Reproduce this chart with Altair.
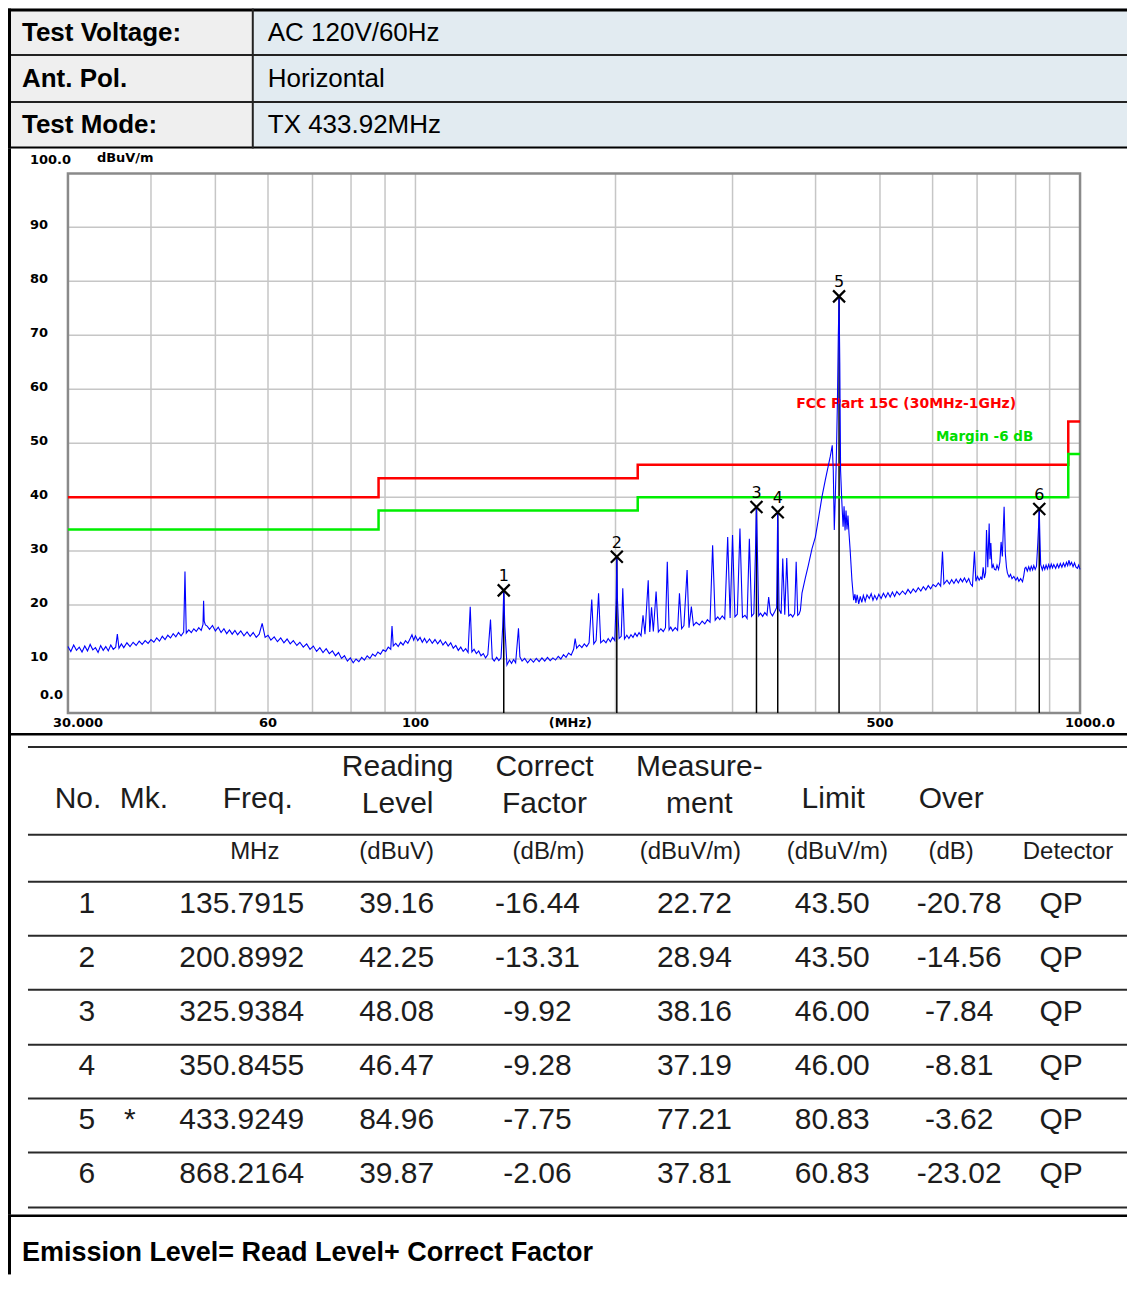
import altair as alt
import pandas as pd

# ---------------- data ----------------
HEADER_LABELS = ["Test Voltage:", "Ant. Pol.", "Test Mode:"]
HEADER_VALUES = ["AC 120V/60Hz", "Horizontal", "TX 433.92MHz"]

# spectrum trace: (MHz, dBuV/m)
TRACE_30_100 = [
    (30.0, 12.3), (30.3, 11.4), (30.6, 12.6), (30.9, 11.6), (31.2, 12.2), (31.5, 11.3), (31.8, 12.4),
    (32.1, 11.5), (32.4, 12.7), (32.7, 11.7), (33.0, 12.1), (33.3, 11.2), (33.6, 12.5), (33.9, 11.6),
    (34.2, 12.3), (34.5, 11.5), (34.8, 12.6), (35.1, 11.8), (35.4, 12.2), (35.6, 14.6), (35.8, 12.0),
    (36.1, 12.8), (36.4, 12.1), (36.8, 13.0), (37.2, 12.3), (37.6, 13.1), (38.0, 12.5), (38.4, 13.3),
    (38.8, 12.7), (39.2, 13.4), (39.6, 12.9), (40.0, 13.6), (40.4, 13.1), (40.8, 13.9), (41.2, 13.3),
    (41.6, 14.2), (42.0, 13.6), (42.4, 14.4), (42.8, 13.9), (43.2, 14.7), (43.6, 14.1), (44.0, 14.9),
    (44.4, 14.3), (44.8, 15.0), (44.9, 20.4), (45.0, 26.2), (45.1, 20.4), (45.2, 14.8), (45.6, 15.4),
    (46.0, 14.9), (46.4, 15.6), (46.8, 15.1), (47.2, 15.8), (47.6, 15.3), (47.9, 16.4), (48.0, 20.8),
    (48.1, 17.0), (48.3, 16.3), (48.6, 16.1), (49.0, 15.5), (49.5, 16.2), (50.0, 15.2), (50.5, 15.9),
    (51.0, 14.9), (51.5, 15.6), (52.0, 14.7), (52.5, 15.4), (53.0, 14.6), (53.5, 15.3), (54.0, 14.5),
    (54.6, 15.2), (55.2, 14.3), (55.8, 15.0), (56.4, 14.2), (57.0, 14.9), (57.6, 14.0), (58.2, 14.6),
    (58.8, 16.6), (59.4, 14.0), (60.0, 14.4), (60.6, 13.5), (61.3, 14.1), (62.0, 13.2), (62.7, 13.9),
    (63.4, 13.0), (64.1, 13.7), (64.8, 12.8), (65.5, 13.4), (66.3, 12.5), (67.0, 13.1), (67.8, 12.2),
    (68.6, 12.8), (69.4, 11.8), (70.2, 12.4), (71.0, 11.4), (71.8, 12.1), (72.6, 11.2), (73.4, 11.9),
    (74.2, 11.0), (75.0, 11.5), (75.8, 10.6), (76.6, 11.2), (77.4, 10.1), (78.2, 10.6), (79.0, 9.6),
    (79.8, 10.2), (80.6, 9.3), (81.4, 10.0), (82.2, 9.5), (83.0, 10.3), (83.8, 9.8), (84.6, 10.6),
    (85.4, 10.1), (86.2, 10.9), (87.0, 10.5), (87.8, 11.3), (88.6, 10.9), (89.4, 11.7), (90.2, 11.4),
    (91.0, 12.2), (91.8, 11.8), (92.2, 16.1), (92.6, 12.4), (93.4, 12.9), (94.2, 12.3), (95.0, 13.1),
    (95.8, 12.6), (96.6, 13.4), (97.4, 12.9), (98.2, 13.8), (98.8, 14.5), (99.4, 13.5),
]
TRACE_100_300 = [
    (100.0, 14.3), (100.8, 13.4), (101.6, 14.0), (102.4, 13.1), (103.2, 13.8), (104.0, 13.0), (105.0, 13.7),
    (106.0, 12.9), (107.0, 13.6), (108.0, 12.8), (109.0, 13.5), (110.0, 12.6), (111.0, 13.2), (112.0, 12.4),
    (113.0, 13.0), (114.0, 12.0), (115.0, 12.5), (116.0, 11.6), (117.0, 12.2), (118.0, 11.4), (119.0, 11.9),
    (120.0, 11.2), (120.9, 19.7), (121.6, 11.3), (122.5, 11.8), (123.5, 11.0), (124.5, 11.5), (125.5, 10.6),
    (126.5, 11.0), (127.5, 10.2), (128.5, 10.8), (129.7, 17.3), (130.5, 10.1), (131.4, 9.6), (132.5, 10.3),
    (133.5, 9.7), (134.5, 10.2), (135.3, 16.0), (135.8, 22.7), (136.3, 16.0), (137.3, 8.9), (138.5, 9.8),
    (139.5, 9.2), (140.5, 9.9), (141.5, 9.3), (142.9, 15.7), (143.6, 10.4), (144.7, 9.6), (146.0, 10.1),
    (147.5, 9.3), (149.0, 10.0), (150.5, 9.4), (152.0, 10.1), (153.5, 9.5), (155.0, 10.2), (156.5, 9.6),
    (158.0, 10.3), (159.5, 9.7), (161.0, 10.2), (162.5, 9.8), (164.0, 10.5), (165.5, 10.0), (167.0, 10.8),
    (168.5, 10.3), (170.0, 11.1), (171.5, 10.7), (173.0, 11.8), (173.9, 13.8), (174.8, 12.0), (176.5, 12.6),
    (178.0, 12.1), (179.5, 12.8), (181.0, 12.3), (182.5, 13.0), (184.2, 21.0), (185.5, 12.8), (187.0, 13.4),
    (188.6, 22.2), (190.0, 13.0), (191.9, 13.5), (193.5, 13.0), (195.0, 13.8), (196.5, 13.2), (198.0, 14.0),
    (199.5, 13.4), (200.5, 21.3), (200.9, 28.9), (201.3, 21.3), (202.5, 13.8), (204.0, 14.2), (205.1, 23.1),
    (206.3, 13.7), (208.0, 14.4), (209.5, 13.8), (211.0, 14.5), (212.5, 14.0), (214.0, 14.8), (215.5, 14.2),
    (217.0, 14.9), (218.5, 14.3), (220.0, 18.1), (221.5, 14.6), (224.0, 24.6), (225.2, 15.0), (226.6, 19.6),
    (228.0, 15.1), (230.2, 22.5), (232.0, 15.0), (234.0, 15.6), (236.0, 15.1), (237.8, 15.8), (239.3, 28.0),
    (240.8, 15.4), (242.2, 15.9), (243.8, 15.2), (246.0, 15.8), (248.0, 15.3), (249.6, 22.2), (251.5, 15.6),
    (253.5, 16.2), (256.3, 26.5), (258.0, 15.8), (260.1, 19.7), (262.0, 16.2), (264.5, 16.8), (267.4, 16.3),
    (270.0, 17.0), (272.5, 16.5), (275.0, 17.3), (277.5, 16.8), (280.0, 31.1), (282.5, 17.2), (285.0, 17.8),
    (287.0, 17.3), (289.5, 18.0), (292.0, 17.4), (295.0, 32.6), (297.5, 17.6),
]
TRACE_300_1000 = [
    (300.0, 33.0), (302.5, 17.8), (305.0, 18.3), (307.8, 34.2), (310.5, 17.7), (313.2, 18.1), (315.5, 17.5),
    (318.0, 32.3), (320.5, 17.9), (323.0, 18.4), (324.8, 30.0), (325.9, 38.2), (327.0, 30.0), (328.5, 18.0),
    (330.5, 18.5), (333.0, 17.9), (335.5, 18.6), (338.0, 18.1), (340.0, 21.5), (342.0, 18.6), (344.5, 18.0),
    (347.0, 18.7), (349.5, 19.5), (350.8, 37.2), (352.5, 19.2), (355.0, 18.4), (357.0, 28.6), (359.5, 18.2),
    (362.0, 28.7), (364.5, 18.0), (367.0, 18.3), (369.5, 17.8), (372.0, 18.4), (374.0, 28.0), (376.0, 18.1),
    (377.7, 18.3), (379.5, 19.0), (381.6, 22.2), (386.0, 25.0), (390.0, 27.3), (395.0, 30.4), (399.7, 32.6),
    (404.0, 36.0), (409.0, 40.1), (413.6, 43.1), (418.0, 45.8), (421.0, 47.6), (423.8, 49.6), (425.3, 45.0),
    (426.8, 33.9), (428.3, 40.0), (429.8, 47.0), (431.5, 58.0), (432.8, 70.0), (433.9, 77.2), (435.0, 65.0),
    (436.2, 45.0), (438.0, 39.4), (440.0, 34.5), (441.5, 38.3), (443.0, 33.8), (444.5, 37.5), (446.0, 34.0),
    (447.5, 36.6), (449.0, 33.5), (451.0, 30.0), (453.7, 24.6), (456.4, 20.9), (458.5, 22.0), (460.0, 20.4),
    (462.0, 21.9), (464.5, 20.2), (467.0, 21.6), (469.5, 20.5), (472.0, 21.8), (475.0, 20.7), (478.0, 21.9),
    (481.8, 21.2), (485.0, 22.1), (488.0, 20.9), (491.0, 21.8), (494.5, 21.0), (498.0, 22.0), (502.0, 21.2),
    (506.0, 22.2), (510.0, 21.4), (514.0, 22.3), (518.0, 21.5), (522.0, 22.4), (526.0, 21.6), (530.0, 22.5),
    (535.0, 21.9), (540.6, 22.6), (546.0, 22.0), (551.0, 22.9), (556.0, 22.2), (561.0, 23.0), (566.0, 22.4),
    (571.0, 23.2), (576.0, 22.6), (581.0, 23.4), (586.0, 22.8), (591.0, 23.6), (596.0, 23.0), (601.0, 23.8),
    (606.7, 23.4), (612.0, 24.1), (617.0, 23.5), (620.9, 29.9), (624.0, 23.9), (630.6, 24.6), (636.0, 23.9),
    (641.0, 24.7), (646.0, 24.0), (651.0, 24.8), (656.0, 24.1), (661.0, 24.9), (665.4, 24.3), (670.0, 25.0),
    (675.0, 24.2), (680.0, 24.9), (684.5, 23.9), (688.8, 23.5), (693.6, 29.9), (697.0, 24.4), (701.0, 25.3),
    (705.0, 24.6), (709.2, 25.2), (712.0, 24.7), (714.9, 27.0), (718.0, 25.0), (721.0, 26.0), (723.2, 33.9),
    (726.5, 27.0), (729.9, 35.1), (732.0, 28.5), (734.2, 31.5), (737.0, 26.8), (740.0, 27.5), (743.5, 26.6),
    (747.0, 26.5), (750.0, 27.4), (754.0, 26.6), (757.5, 28.0), (760.7, 31.7), (764.0, 29.0), (768.7, 38.2),
    (772.0, 29.5), (775.0, 27.0), (777.6, 25.9), (782.0, 25.2), (786.0, 25.7), (790.0, 24.9), (795.0, 25.3),
    (800.6, 24.6), (805.0, 25.1), (809.0, 24.4), (814.0, 24.9), (819.3, 24.3), (823.0, 25.5), (826.0, 26.8),
    (829.0, 27.0), (833.0, 26.3), (837.0, 27.1), (841.0, 26.4), (844.5, 27.2), (848.5, 26.5), (852.0, 27.3),
    (856.0, 26.6), (860.0, 27.2), (864.0, 31.7), (866.5, 35.0), (868.2, 37.8), (870.0, 33.0), (872.5, 27.5),
    (877.6, 26.5), (881.0, 27.3), (885.0, 26.6), (889.0, 27.4), (893.0, 26.7), (897.0, 27.5), (901.0, 26.8),
    (905.0, 27.6), (909.0, 26.9), (913.0, 27.5), (919.0, 26.8), (924.0, 27.6), (929.0, 26.9), (934.0, 27.7),
    (939.0, 27.0), (944.0, 27.8), (949.0, 27.1), (954.0, 27.9), (958.0, 27.3), (962.6, 28.3), (966.0, 27.4),
    (971.0, 27.9), (976.0, 27.1), (981.0, 27.8), (986.0, 27.0), (990.9, 26.8), (995.0, 27.4), (1000.0, 26.6),
]

LIMIT_FREQ = [30, 88, 216, 960, 1000]
LIMIT_LEVEL = [40.0, 43.5, 46.0, 54.0, 54.0]
MARGIN_LEVEL = [34.0, 37.5, 40.0, 48.0, 48.0]
LIMIT_NAME = "FCC Part 15C (30MHz-1GHz)"
MARGIN_NAME = "Margin -6 dB"

MARK_NO = [1, 2, 3, 4, 5, 6]
MARK_FLAG = ["", "", "", "", "*", ""]
MARK_FREQ = [135.7915, 200.8992, 325.9384, 350.8455, 433.9249, 868.2164]
READING_LEVEL = [39.16, 42.25, 48.08, 46.47, 84.96, 39.87]
CORRECT_FACTOR = [-16.44, -13.31, -9.92, -9.28, -7.75, -2.06]
MEASUREMENT = [22.72, 28.94, 38.16, 37.19, 77.21, 37.81]
LIMIT = [43.50, 43.50, 46.00, 46.00, 80.83, 60.83]
OVER = [-20.78, -14.56, -7.84, -8.81, -3.62, -23.02]
DETECTOR = ["QP", "QP", "QP", "QP", "QP", "QP"]

GRID_FREQ = [40, 50, 60, 70, 80, 90, 100, 200, 300, 400, 500, 600, 700, 800, 900]
GRID_LEVEL = [10, 20, 30, 40, 50, 60, 70, 80, 90]
Y_TICK_VALUES = [10, 20, 30, 40, 50, 60, 70, 80, 90]
X_TICK_VALUES = [60, 100, 171, 500]
X_TICK_LABELS = ["60", "100", "(MHz)", "500"]
X_END_VALUES = [30, 1000]
X_END_LABELS = ["30.000", "1000.0"]
Y_UNIT = "dBuV/m"

COLUMN_HEADS = ["No.", "Mk.", "Freq.", "Reading\nLevel", "Correct\nFactor", "Measure-\nment",
                "Limit", "Over", ""]
COLUMN_UNITS = ["", "", "MHz", "(dBuV)", "(dB/m)", "(dBuV/m)", "(dBuV/m)", "(dB)", "Detector"]
FOOTNOTE = "Emission Level= Read Level+ Correct Factor"

# ---------------- layout ----------------
W = 1120
H_HEAD, H_PLOT, H_TABLE, H_FOOT = 140, 585, 482, 60
TABLE_FONT = "Liberation Sans"
PLOT_FONT = "DejaVu Sans"
TXT = "#1c1c1c"
HEAD_X = [70, 136, 250, 390, 537, 692, 826, 944, 1061]
UNIT_X = [70, 136, 247, 389, 541, 683, 830, 944, 1061]
DATA_X = [79, 122, 234, 389, 530, 687, 825, 952, 1054]
TABLE_LINES_Y = [14, 102, 149, 203, 257, 312, 366, 420, 475]

ONE = pd.DataFrame({"k": [0]})


def hline(y, x1, x2, color="black", width=2.0):
    return alt.Chart(ONE).mark_rule(color=color, strokeWidth=width).encode(
        x=alt.value(x1), x2=alt.value(x2), y=alt.value(y))


def vline(x, y1, y2, color="black", width=2.0):
    return alt.Chart(ONE).mark_rule(color=color, strokeWidth=width).encode(
        x=alt.value(x), y=alt.value(y1), y2=alt.value(y2))


def band(x1, x2, y1, y2, color="black"):
    # filled rectangle (no stroke, so its bounds stay inside the panel)
    return alt.Chart(ONE).mark_rect(color=color, strokeWidth=0).encode(
        x=alt.value(x1), x2=alt.value(x2), y=alt.value(y1), y2=alt.value(y2))


def label(text, x, y, size, weight="normal", align="center", color=TXT, font=TABLE_FONT):
    return alt.Chart(ONE).mark_text(text=text, fontSize=size, fontWeight=weight, align=align,
                                    baseline="middle", color=color, font=font).encode(
        x=alt.value(x), y=alt.value(y))


# ---------------- header panel ----------------
head_df = pd.DataFrame({"row": [0, 1, 2], "label": HEADER_LABELS, "value": HEADER_VALUES})
head_rows = alt.Scale(type="point", domain=[0, 1, 2], range=[24, 117], padding=0)
header = alt.layer(
    band(0, 245, 0, H_HEAD, "#efefef"),
    band(245, W, 0, H_HEAD, "#e2ebf1"),
    alt.Chart(head_df).mark_text(align="left", baseline="middle", fontSize=26, fontWeight="bold",
                                 font=TABLE_FONT, color="black").encode(
        x=alt.value(14), y=alt.Y("row:O", scale=head_rows, axis=None), text="label:N"),
    alt.Chart(head_df).mark_text(align="left", baseline="middle", fontSize=26,
                                 font=TABLE_FONT, color="black").encode(
        x=alt.value(260), y=alt.Y("row:O", scale=head_rows, axis=None), text="value:N"),
    band(0, W, 0, 3, "black"),
    band(0, W, 45.5, 47.5, "#222"), band(0, W, 92.5, 94.5, "#222"),
    band(0, W, 138, 140, "black"),
    band(244, 246, 0, H_HEAD, "#222"),
    band(0, 3, 0, H_HEAD, "black"),
).properties(width=W, height=H_HEAD)

# ---------------- spectrum panel ----------------
XS = alt.Scale(type="log", domain=[30, 1000], range=[60, 1073])
YS = alt.Scale(type="linear", domain=[0, 100], range=[565, 25], zero=False, nice=False)

trace_df = pd.DataFrame(TRACE_30_100 + TRACE_100_300 + TRACE_300_1000, columns=["f", "db"])
limit_df = pd.DataFrame({"f": LIMIT_FREQ, "limit": LIMIT_LEVEL, "margin": MARGIN_LEVEL})
mark_df = pd.DataFrame({"f": MARK_FREQ, "db": MEASUREMENT, "no": MARK_NO})
gridx_df = pd.DataFrame({"f": GRID_FREQ})
gridy_df = pd.DataFrame({"v": GRID_LEVEL})
ytick_df = pd.DataFrame({"v": Y_TICK_VALUES, "t": [str(v) for v in Y_TICK_VALUES]})
xtick_df = pd.DataFrame({"v": X_TICK_VALUES, "t": X_TICK_LABELS})
xend_df = pd.DataFrame({"v": X_END_VALUES, "t": X_END_LABELS})

fx = lambda name: alt.X(name, scale=XS, axis=None)
fy = lambda name: alt.Y(name, scale=YS, axis=None)
dx = lambda v: alt.XDatum(v, type="quantitative", scale=XS, axis=None)
dy = lambda v: alt.YDatum(v, type="quantitative", scale=YS, axis=None)
GRID = "#c6c6c6"
AX_TXT = dict(font=PLOT_FONT, fontWeight="bold", fontSize=13, color="black", baseline="middle")

spectrum = alt.layer(
    alt.Chart(gridx_df).mark_rule(color=GRID, strokeWidth=1.5).encode(
        x=fx("f:Q"), y=dy(0), y2=alt.Y2Datum(100)),
    alt.Chart(gridy_df).mark_rule(color=GRID, strokeWidth=1.5).encode(
        x=dx(30), x2=alt.X2Datum(1000), y=fy("v:Q")),
    alt.Chart(ONE).mark_rect(fillOpacity=0, stroke="#8a8a8a", strokeWidth=2.5).encode(
        x=dx(30), x2=alt.X2Datum(1000), y=dy(0), y2=alt.Y2Datum(100)),
    alt.Chart(mark_df).mark_rule(color="black", strokeWidth=1.5).encode(
        x=fx("f:Q"), y=fy("db:Q"), y2=alt.Y2Datum(0)),
    alt.Chart(limit_df).mark_line(color="#ff0000", strokeWidth=2.5, interpolate="step-after").encode(
        x=fx("f:Q"), y=fy("limit:Q")),
    alt.Chart(limit_df).mark_line(color="#00ee00", strokeWidth=2.5, interpolate="step-after").encode(
        x=fx("f:Q"), y=fy("margin:Q")),
    alt.Chart(ONE).mark_text(text=LIMIT_NAME, align="left", font=PLOT_FONT, fontWeight="bold",
                             fontSize=14, color="#ff0000", baseline="middle").encode(
        x=dx(374), y=dy(57.2)),
    alt.Chart(ONE).mark_text(text=MARGIN_NAME, align="left", font=PLOT_FONT, fontWeight="bold",
                             fontSize=13.5, color="#00dd00", baseline="middle").encode(
        x=dx(607), y=dy(51.1)),
    alt.Chart(trace_df).mark_line(color="#0000ff", strokeWidth=1.1).encode(
        x=fx("f:Q"), y=fy("db:Q")),
    alt.Chart(mark_df).mark_point(shape="M-1,-1L1,1M-1,1L1,-1", size=144, filled=False,
                                  color="black", strokeWidth=2.2, opacity=1).encode(
        x=fx("f:Q"), y=fy("db:Q")),
    alt.Chart(mark_df).mark_text(dy=-14, fontSize=16, font=PLOT_FONT, color="black",
                                 baseline="middle").encode(
        x=fx("f:Q"), y=fy("db:Q"), text="no:N"),
    alt.Chart(ytick_df).mark_text(align="left", dy=-2, **AX_TXT).encode(
        x=alt.value(22), y=fy("v:Q"), text="t:N"),
    alt.Chart(ONE).mark_text(text="100.0", align="left", dy=-13, **AX_TXT).encode(
        x=alt.value(22), y=dy(100)),
    alt.Chart(ONE).mark_text(text="0.0", align="left", dy=-18, **AX_TXT).encode(
        x=alt.value(32), y=dy(0)),
    alt.Chart(ONE).mark_text(text=Y_UNIT, align="left", font=PLOT_FONT, fontWeight="bold",
                             fontSize=13, color="black", baseline="middle").encode(
        x=alt.value(89), y=alt.value(10)),
    alt.Chart(xtick_df).mark_text(align="center", **AX_TXT).encode(
        x=fx("v:Q"), y=alt.value(575), text="t:N"),
    alt.Chart(xend_df).mark_text(align="center", dx=10, **AX_TXT).encode(
        x=fx("v:Q"), y=alt.value(575), text="t:N"),
    band(0, 3, 0, H_PLOT, "black"),
).properties(width=W, height=H_PLOT)

# ---------------- data table panel ----------------
COL_VALUES = [
    [str(n) for n in MARK_NO],
    MARK_FLAG,
    [f"{v:.4f}" for v in MARK_FREQ],
    [f"{v:.2f}" for v in READING_LEVEL],
    [f"{v:.2f}" for v in CORRECT_FACTOR],
    [f"{v:.2f}" for v in MEASUREMENT],
    [f"{v:.2f}" for v in LIMIT],
    [f"{v:.2f}" for v in OVER],
    DETECTOR,
]
row_scale = alt.Scale(type="point", domain=MARK_NO, range=[171, 441], padding=0)

table_layers = [band(0, W, 0, 2.5, "black")]
for y in TABLE_LINES_Y:
    table_layers.append(hline(y, 20, W, "#2a2a2a", 2))
for head, x in zip(COLUMN_HEADS, HEAD_X):
    if not head:
        continue
    parts = head.split("\n")
    if len(parts) == 2:
        table_layers.append(label(parts[0], x, 34, 30))
        table_layers.append(label(parts[1], x, 71, 30))
    else:
        table_layers.append(label(head, x, 66, 30))
for unit, x in zip(COLUMN_UNITS, UNIT_X):
    if unit:
        table_layers.append(label(unit, x, 119, 24))
for vals, x in zip(COL_VALUES, DATA_X):
    df = pd.DataFrame({"row": MARK_NO, "text": vals})
    table_layers.append(
        alt.Chart(df).mark_text(fontSize=30, font=TABLE_FONT, color=TXT, baseline="middle",
                                align="center").encode(
            x=alt.value(x), y=alt.Y("row:O", scale=row_scale, axis=None), text="text:N"))
table_layers.append(band(0, 3, 0, H_TABLE, "black"))
table = alt.layer(*table_layers).properties(width=W, height=H_TABLE)

# ---------------- footer panel ----------------
footer = alt.layer(
    band(0, W, 0, 2.5, "black"),
    label(FOOTNOTE, 14, 39, 27, "bold", "left", "black"),
    band(0, 3, 0, H_FOOT, "black"),
).properties(width=W, height=H_FOOT)

chart = alt.vconcat(header, spectrum, table, footer, spacing=0, bounds="flush").properties(
    padding=0).configure_view(stroke=None)

chart.save("out.html", embed_options={"renderer": "svg", "actions": False})
